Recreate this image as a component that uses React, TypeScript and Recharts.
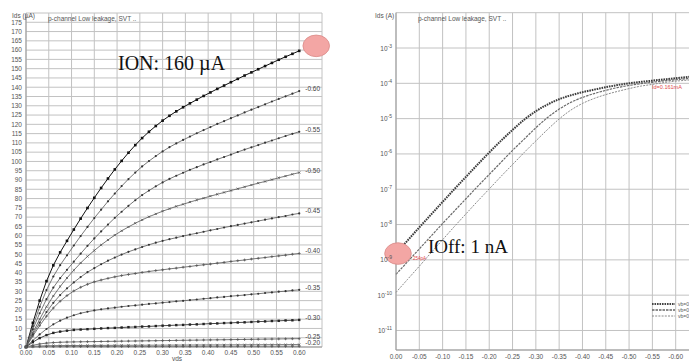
import React from 'react';
import { LineChart, Line, XAxis, YAxis, CartesianGrid, ReferenceDot, Legend } from 'recharts';

// ---------- Left chart: Ids (uA) vs vds, family of vgs curves ----------
const vds = [0,0.015,0.03,0.045,0.06,0.075,0.09,0.105,0.12,0.135,0.15,0.165,0.18,0.195,0.21,0.225,0.24,0.255,0.27,0.285,0.3,0.315,0.33,0.345,0.36,0.375,0.39,0.405,0.42,0.435,0.45,0.465,0.48,0.495,0.51,0.525,0.54,0.555,0.57,0.585,0.6];
const id065 = [0,13,25,35.5,44,51,57.2,63.3,69.2,74.9,80.4,85.7,90.8,95.7,100.3,104.7,108.8,112.6,116.0,119.1,122.0,124.6,127.0,129.2,131.3,133.3,135.3,137.2,139.1,140.9,142.7,144.5,146.3,148.0,149.7,151.4,153.1,154.8,156.4,158.0,159.6];
const id060 = [0,11.2,21.6,30.7,38.0,44.1,49.4,54.7,59.8,64.7,69.5,74.0,78.5,82.7,86.7,90.5,94.0,97.3,100.2,102.9,105.4,107.7,109.7,111.6,113.4,115.2,116.9,118.5,120.2,121.7,123.3,124.8,126.4,127.9,129.3,130.8,132.3,133.7,135.1,136.5,137.9];
const id055 = [0,9.5,18.2,25.8,32.0,37.1,41.6,46.0,50.3,54.5,58.5,62.3,66.0,69.6,72.9,76.1,79.1,81.9,84.3,86.6,88.7,90.6,92.3,93.9,95.5,96.9,98.4,99.7,101.1,102.4,103.7,105.1,106.4,107.6,108.8,110.1,111.3,112.5,113.7,114.9,116.0];
const id050 = [0,7.7,15.0,21.7,27.5,32.6,37.2,41.4,45.3,48.8,52.0,55.0,57.7,60.3,62.6,64.7,66.7,68.5,70.2,71.7,73.2,74.5,75.8,76.9,78.1,79.2,80.2,81.3,82.3,83.3,84.3,85.3,86.3,87.3,88.3,89.2,90.2,91.2,92.1,93.1,94.0];
const id045 = [0,6.7,13.1,18.8,23.8,28.0,31.6,34.8,37.7,40.3,42.5,44.6,46.5,48.2,49.8,51.3,52.6,53.9,55.1,56.2,57.2,58.1,58.9,59.8,60.6,61.3,62.1,62.9,63.6,64.4,65.1,65.8,66.5,67.2,67.9,68.6,69.3,70.0,70.6,71.4,72.0];
const id040 = [0,5.9,11.5,16.6,21.0,24.7,27.7,30.2,32.2,33.8,35.1,36.1,37.0,37.8,38.5,39.1,39.6,40.2,40.7,41.2,41.6,42.1,42.5,43.0,43.4,43.9,44.3,44.7,45.2,45.6,46.1,46.5,46.9,47.4,47.8,48.2,48.7,49.1,49.5,50.0,50.4];
const id035 = [0,3.5,6.8,9.7,12.2,14.2,15.8,17.1,18.2,19.0,19.7,20.3,20.8,21.2,21.7,22.1,22.4,22.8,23.2,23.5,23.9,24.2,24.6,24.9,25.3,25.6,26.0,26.3,26.7,27.0,27.4,27.7,28.0,28.4,28.7,29.1,29.4,29.8,30.1,30.5,30.8];
const id030 = [0,2.6,4.8,6.4,7.6,8.3,8.8,9.2,9.4,9.6,9.8,10.0,10.2,10.3,10.5,10.7,10.8,11.0,11.1,11.3,11.5,11.6,11.8,11.9,12.1,12.2,12.4,12.6,12.7,12.9,13.0,13.2,13.3,13.5,13.7,13.8,14.0,14.1,14.3,14.4,14.6];
const id025 = [0,0.91,1.63,2.10,2.38,2.55,2.67,2.75,2.81,2.87,2.92,2.98,3.03,3.08,3.14,3.19,3.24,3.29,3.35,3.40,3.45,3.50,3.56,3.61,3.66,3.71,3.77,3.82,3.87,3.92,3.98,4.03,4.08,4.13,4.19,4.24,4.29,4.34,4.40,4.45,4.50];
const id020 = [0,0.30,0.52,0.65,0.72,0.76,0.78,0.81,0.82,0.84,0.85,0.87,0.88,0.90,0.91,0.93,0.94,0.96,0.97,0.99,1.00,1.02,1.03,1.05,1.06,1.08,1.09,1.11,1.12,1.14,1.15,1.17,1.18,1.20,1.21,1.23,1.24,1.26,1.27,1.29,1.30];
const id015 = [0,0.10,0.16,0.19,0.21,0.22,0.23,0.23,0.24,0.24,0.25,0.25,0.25,0.26,0.26,0.27,0.27,0.28,0.28,0.29,0.29,0.29,0.30,0.30,0.31,0.31,0.32,0.32,0.33,0.33,0.34,0.34,0.34,0.35,0.35,0.36,0.36,0.37,0.37,0.38,0.38];

const leftYTicks = [0,5,10,15,20,25,30,35,40,45,50,55,60,65,70,75,80,85,90,95,100,105,110,115,120,125,130,135,140,145,150,155,160,165,170,175,180];
const leftXTicks = [0,0.05,0.1,0.15,0.2,0.25,0.3,0.35,0.4,0.45,0.5,0.55,0.6,0.65];

// ---------- Right chart: Ids (A) log vs vgs, three body-bias curves ----------
const vgs = [0,-0.025,-0.05,-0.075,-0.1,-0.125,-0.15,-0.175,-0.2,-0.225,-0.25,-0.275,-0.3,-0.325,-0.35,-0.375,-0.4,-0.425,-0.45,-0.475,-0.5,-0.525,-0.55,-0.575,-0.6,-0.625,-0.65];
const idVb0 = [1.51e-9,3.55e-9,8.32e-9,1.91e-8,4.37e-8,1.0e-7,2.24e-7,5.01e-7,1.10e-6,2.34e-6,4.79e-6,9.33e-6,1.62e-5,2.51e-5,3.55e-5,4.57e-5,5.62e-5,6.61e-5,7.76e-5,8.91e-5,1.0e-4,1.10e-4,1.19e-4,1.29e-4,1.40e-4,1.51e-4,1.61e-4];
const idVb1 = [3.89e-10,8.91e-10,2.04e-9,4.68e-9,1.07e-8,2.40e-8,5.37e-8,1.20e-7,2.63e-7,5.75e-7,1.26e-6,2.63e-6,5.50e-6,1.07e-5,1.86e-5,2.88e-5,3.98e-5,5.13e-5,6.31e-5,7.59e-5,8.71e-5,9.77e-5,1.07e-4,1.17e-4,1.26e-4,1.35e-4,1.45e-4];
const idVb2 = [1.20e-10,2.82e-10,6.61e-10,1.58e-9,3.72e-9,8.71e-9,2.0e-8,4.57e-8,1.02e-7,2.29e-7,5.01e-7,1.10e-6,2.34e-6,4.90e-6,9.77e-6,1.74e-5,2.69e-5,3.72e-5,4.79e-5,5.89e-5,7.08e-5,8.32e-5,9.33e-5,1.05e-4,1.15e-4,1.23e-4,1.32e-4];
const legendNames = ['vb=0.00', 'vb=0.10', 'vb=0.20'];

const rightXTicks = [0,-0.05,-0.1,-0.15,-0.2,-0.25,-0.3,-0.35,-0.4,-0.45,-0.5,-0.55,-0.6,-0.65];
const rightYTicks = [1e-11,1e-10,1e-9,1e-8,1e-7,1e-6,1e-5,1e-4,1e-3,1e-2];

const SANS = '"Liberation Sans", Arial, sans-serif';
const SERIF = '"Liberation Serif", "Times New Roman", serif';
const GRID = '#c2c2c2';
const TICK = { fontSize: 6.5, fill: '#555', fontFamily: SANS };

type Series = { key: string; label: string; values: number[]; stroke: string; width: number; marker: string; showLabel: boolean };

const leftSeries: Series[] = [
  { key: 'g065', label: '-0.65', values: id065, stroke: '#111', width: 1, marker: 'bigsq', showLabel: false },
  { key: 'g060', label: '-0.60', values: id060, stroke: '#555', width: 0.8, marker: 'dot', showLabel: true },
  { key: 'g055', label: '-0.55', values: id055, stroke: '#555', width: 0.8, marker: 'dot', showLabel: true },
  { key: 'g050', label: '-0.50', values: id050, stroke: '#555', width: 0.8, marker: 'cross', showLabel: true },
  { key: 'g045', label: '-0.45', values: id045, stroke: '#555', width: 0.8, marker: 'dot', showLabel: true },
  { key: 'g040', label: '-0.40', values: id040, stroke: '#555', width: 0.8, marker: 'plus', showLabel: true },
  { key: 'g035', label: '-0.35', values: id035, stroke: '#555', width: 0.8, marker: 'dot', showLabel: true },
  { key: 'g030', label: '-0.30', values: id030, stroke: '#333', width: 0.9, marker: 'sq', showLabel: true },
  { key: 'g025', label: '-0.25', values: id025, stroke: '#555', width: 0.8, marker: 'plus', showLabel: true },
  { key: 'g020', label: '-0.20', values: id020, stroke: '#555', width: 0.8, marker: 'cross', showLabel: true },
  { key: 'g015', label: '-0.15', values: id015, stroke: '#555', width: 0.8, marker: 'plus', showLabel: false },
];

const leftRows = vds.map((v, i) => {
  const r: any = { vds: v };
  leftSeries.forEach((s) => { r[s.key] = s.values[i]; });
  return r;
});

const rightRows = vgs.map((v, i) => ({ vgs: v, b0: idVb0[i], b1: idVb1[i], b2: idVb2[i] }));

const makeDot = (marker: string, color: string) => (p: any) => {
  const { cx, cy, index } = p;
  const k = `m-${index}`;
  if (cx == null || cy == null) return <g key={k} />;
  if (marker === 'bigsq') return <rect key={k} x={cx - 1.3} y={cy - 1.3} width={2.6} height={2.6} fill="#111" />;
  if (marker === 'sq') return <rect key={k} x={cx - 1.2} y={cy - 1.2} width={2.4} height={2.4} fill="#222" />;
  if (marker === 'plus') return <path key={k} d={`M${cx - 1.4},${cy}H${cx + 1.4}M${cx},${cy - 1.4}V${cy + 1.4}`} stroke={color} strokeWidth={0.8} />;
  if (marker === 'cross') return <path key={k} d={`M${cx - 1.1},${cy - 1.1}L${cx + 1.1},${cy + 1.1}M${cx - 1.1},${cy + 1.1}L${cx + 1.1},${cy - 1.1}`} stroke={color} strokeWidth={0.8} />;
  return <circle key={k} cx={cx} cy={cy} r={1.1} fill="#333" />;
};

const LogTick = (p: any) => {
  const { x, y, payload } = p;
  const v = payload.value;
  if (v >= 1e-2) return <g />;
  const exp = Math.round(Math.log10(v));
  return (
    <text x={x} y={y + 2.5} textAnchor="end" fontSize={6.5} fill="#555" fontFamily={SANS}>
      <tspan>10</tspan>
      <tspan dy={-3} fontSize={5}>{exp}</tspan>
    </text>
  );
};

const ellipseShape = (dx: number, dy: number) => (p: any) => (
  <ellipse cx={p.cx + dx} cy={p.cy + dy} rx={13.3} ry={10.8} fill="#f3a6a4" stroke="#d98a88" strokeWidth={0.8} />
);

const LegendBox = () => (
  <svg width={120} height={24} style={{ display: 'block', overflow: 'visible' }}>
    <line x1={2} y1={5} x2={25} y2={5} stroke="#444" strokeWidth={2} strokeDasharray="1.6 0.9" />
    <line x1={2} y1={11} x2={25} y2={11} stroke="#666" strokeWidth={1.3} strokeDasharray="2.5 1" />
    <line x1={2} y1={17} x2={25} y2={17} stroke="#888" strokeWidth={1} strokeDasharray="2 1.2" />
    {legendNames.map((n, i) => (
      <text key={n} x={28} y={7 + i * 6} fontSize={5} fill="#555" fontFamily={SANS}>{n}</text>
    ))}
  </svg>
);

export default function App() {
  const last = vds.length - 1;
  const lastR = vgs.length - 1;
  return (
    <div style={{ position: 'fixed', left: 0, top: 0, width: 689, height: 363, overflow: 'hidden', background: '#fff' }}>
      <div style={{ position: 'absolute', left: 0, top: 0 }}>
        <LineChart width={340} height={363} data={leftRows} margin={{ top: 13, right: 18, bottom: 0, left: 0 }}>
          <CartesianGrid stroke={GRID} />
          <XAxis dataKey="vds" type="number" domain={[0, 0.65]} ticks={leftXTicks} interval={0}
            tickFormatter={(v: number) => (v > 0.62 ? '' : v.toFixed(2))}
            tickLine={false} tickSize={0} tickMargin={3} height={16} axisLine={{ stroke: '#999' }} tick={TICK} />
          <YAxis type="number" domain={[0, 180]} ticks={leftYTicks} interval={0} width={26}
            tickFormatter={(v: number) => (v >= 180 ? '' : String(v))}
            tickLine={false} tickSize={0} tickMargin={4} axisLine={{ stroke: '#999' }} tick={TICK} />
          {leftSeries.map((s) => (
            <Line key={s.key} dataKey={s.key} type="linear" stroke={s.stroke} strokeWidth={s.width}
              dot={makeDot(s.marker, s.stroke)} activeDot={false} isAnimationActive={false} />
          ))}
          {leftSeries.filter((s) => s.showLabel).map((s) => (
            <ReferenceDot key={'lab' + s.key} x={vds[last]} y={s.values[last]} r={0}
              shape={(p: any) => <text x={p.cx + 6} y={p.cy} fontSize={6.5} fill="#444" fontFamily={SANS}>{s.label}</text>} />
          ))}
          <ReferenceDot x={vds[last]} y={id065[last]} r={0} shape={ellipseShape(17, -5)} />
        </LineChart>
      </div>

      <div style={{ position: 'absolute', left: 360, top: 0 }}>
        <LineChart width={350} height={363} data={rightRows} margin={{ top: 12.7, right: 11, bottom: 0, left: 0 }}>
          <CartesianGrid stroke={GRID} />
          <XAxis dataKey="vgs" type="number" domain={[-0.65, 0]} reversed ticks={rightXTicks} interval={0}
            tickFormatter={(v: number) => (Math.abs(v) > 0.62 ? '' : v === 0 ? '0.00' : v.toFixed(2))}
            tickLine={false} tickSize={0} tickMargin={4} height={13} axisLine={{ stroke: '#999' }} tick={TICK} />
          <YAxis type="number" scale="log" domain={[2.8e-12, 1e-2]} allowDataOverflow ticks={rightYTicks} interval={0}
            width={36} tickLine={false} tickSize={0} tickMargin={4} axisLine={{ stroke: '#999' }} tick={<LogTick />} />
          <Line dataKey="b2" name={legendNames[2]} type="monotone" stroke="#8a8a8a" strokeWidth={1} strokeDasharray="2 1.2" dot={false} activeDot={false} isAnimationActive={false} />
          <Line dataKey="b1" name={legendNames[1]} type="monotone" stroke="#6a6a6a" strokeWidth={1.2} strokeDasharray="2.5 1" dot={false} activeDot={false} isAnimationActive={false} />
          <Line dataKey="b0" name={legendNames[0]} type="monotone" stroke="#3c3c3c" strokeWidth={2} strokeDasharray="1.6 0.9" dot={false} activeDot={false} isAnimationActive={false} />
          <ReferenceDot x={vgs[lastR]} y={idVb0[lastR]} r={0}
            shape={(p: any) => <text x={p.cx - 47} y={p.cy + 13} fontSize={5.5} fill="#e2494b" fontFamily={SANS}>Id=0.161mA</text>} />
          <ReferenceDot x={vgs[0]} y={idVb0[0]} r={0} shape={ellipseShape(2, 0)} />
          <ReferenceDot x={vgs[0]} y={idVb0[0]} r={0}
            shape={(p: any) => <text x={p.cx + 17} y={p.cy + 6.5} fontSize={4.5} fill="#e2494b" fontFamily={SANS}>254pA</text>} />
          <Legend layout="horizontal" verticalAlign="middle" align="center"
            wrapperStyle={{ left: 290, top: 299, width: 120, height: 24 }} content={() => <LegendBox />} />
        </LineChart>
      </div>

      <svg width={689} height={363} style={{ position: 'absolute', left: 0, top: 0, pointerEvents: 'none' }}>
        <g fontFamily={SANS} fontSize={6.5} fill="#555">
          <text x={12} y={17.5}>Ids (µA)</text>
          <text x={48} y={21}>p-channel Low leakage, SVT ..</text>
          <text x={177} y={360.5} textAnchor="middle">vds</text>
          <text x={375} y={17.5}>Ids (A)</text>
          <text x={418} y={21}>p-channel Low leakage, SVT ..</text>
          <text x={549} y={367} textAnchor="middle">vgs</text>
        </g>
        <text x={118} y={69.5} fontFamily={SERIF} fontSize={20} fill="#111">ION: 160 µA</text>
        <text x={428} y={253} fontFamily={SERIF} fontSize={19} fill="#111">IOff: 1 nA</text>
      </svg>
    </div>
  );
}
